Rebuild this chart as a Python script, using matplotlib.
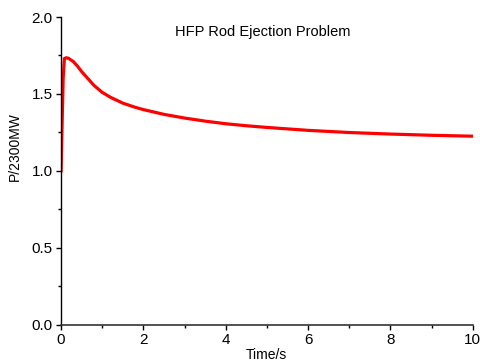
import matplotlib
matplotlib.use('Agg')
import matplotlib.pyplot as plt
from matplotlib.ticker import MultipleLocator

plt.rcParams['font.family'] = ['Liberation Sans', 'DejaVu Sans']

# values
time_s = [0.0, 0.02, 0.05, 0.08, 0.12, 0.17, 0.2, 0.3, 0.4, 0.5, 0.6, 0.8, 1.0,
          1.2, 1.5, 1.8, 2.0, 2.5, 3.0, 3.5, 4.0, 4.5, 5.0, 6.0, 7.0, 8.0, 9.0, 10.0]
power = [1.0, 1.25, 1.6, 1.73, 1.735, 1.733, 1.728, 1.71, 1.68, 1.645, 1.615, 1.555, 1.51,
         1.478, 1.44, 1.413, 1.398, 1.367, 1.343, 1.323, 1.306, 1.293, 1.282, 1.263,
         1.249, 1.239, 1.231, 1.225]

fig = plt.figure(figsize=(4.81, 3.63), dpi=100)
ax = fig.add_axes([0.127, 0.106, 0.856, 0.847])

ax.plot(time_s, power, color='red', lw=2.3, solid_joinstyle='round')

ax.set_xlim(0, 10)
ax.set_ylim(0, 2.0)
ax.xaxis.set_major_locator(MultipleLocator(2))
ax.xaxis.set_minor_locator(MultipleLocator(1))
ax.yaxis.set_major_locator(MultipleLocator(0.5))
ax.yaxis.set_minor_locator(MultipleLocator(0.25))
ax.yaxis.set_major_formatter(plt.FormatStrFormatter('%.1f'))

for side in ['top', 'right']:
    ax.spines[side].set_visible(False)
ax.spines['left'].set_linewidth(1.0)
ax.spines['bottom'].set_linewidth(1.2)
ax.spines['bottom'].set_color('#333333')
ax.tick_params(which='major', direction='out', length=3.6, width=1, labelsize=11, pad=2.5)
ax.tick_params(which='minor', direction='out', length=2.5, width=1)

ax.set_xlabel('Time/s', fontsize=10, va='center')
ax.set_ylabel('P/2300MW', fontsize=10, va='center')
ax.xaxis.set_label_coords(0.499, -0.099)
ax.yaxis.set_label_coords(-0.112, 0.578)
ax.text(0.489, 0.951, 'HFP Rod Ejection Problem', transform=ax.transAxes,
        ha='center', va='center', fontsize=10.5)

fig.savefig('out.png', dpi=100)
